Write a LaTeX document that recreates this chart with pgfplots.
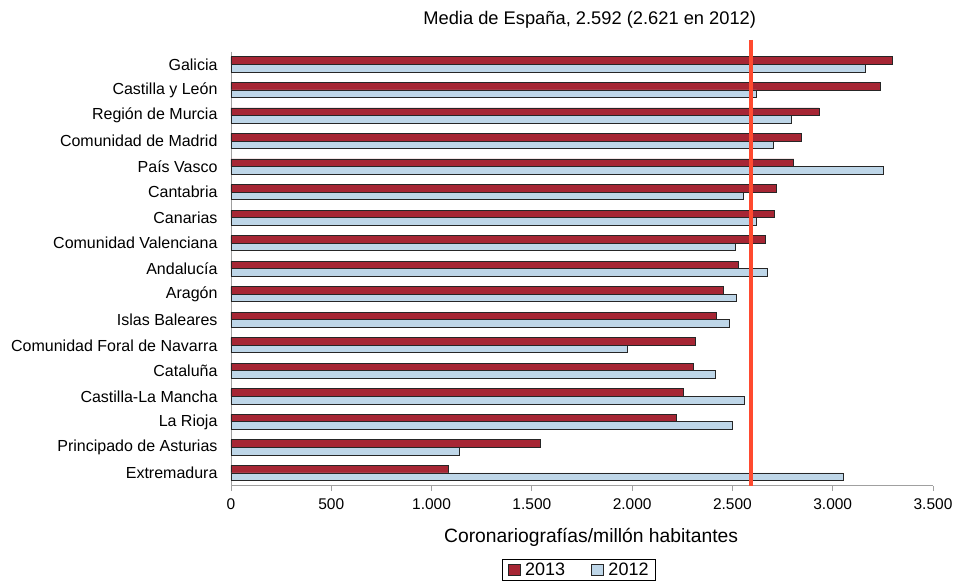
\documentclass[border=0pt]{standalone}
\usepackage{pgfplots}
\pgfplotsset{compat=1.18}
\usepackage{fontspec}
\setmainfont{Liberation Sans}
\definecolor{barred}{RGB}{166,38,52}
\definecolor{barblue}{RGB}{190,214,232}
\definecolor{axgray}{RGB}{160,160,160}
\definecolor{linered}{RGB}{255,74,47}
\begin{document}
\begin{tikzpicture}
\path[use as bounding box] (-231pt,-99.3pt) rectangle (726pt,485.7pt);
\begin{axis}[
  scale only axis,
  width=702pt, height=434pt,
  at={(0pt,0pt)}, anchor=south west,
  font=\fontsize{15.5}{18}\selectfont,
  xmin=0, xmax=3500,
  ymin=-0.5, ymax=16.5,
  y dir=reverse,
  axis x line*=bottom,
  axis y line*=left,
  axis line style={axgray, line width=0.8pt},
  xtick={0,500,...,3500},
  /pgf/number format/.cd, 1000 sep={.}, assume math mode=true,
  /pgfplots/.cd,
  ytick={0,...,16},
  yticklabels={Galicia,Castilla y León,Región de Murcia,Comunidad de Madrid,País Vasco,Cantabria,Canarias,Comunidad Valenciana,Andalucía,Aragón,Islas Baleares,Comunidad Foral de Navarra,Cataluña,Castilla-La Mancha,La Rioja,Principado de Asturias,Extremadura},
  minor ytick={-0.5,0.5,...,16.5},
  major tick length=5pt,
  minor tick length=5pt,
  tick align=outside,
  ytick style={draw=none},
  minor tick style={axgray, line width=0.8pt},
  xtick style={axgray, line width=0.8pt},
  yticklabel style={xshift=-5pt, font=\fontsize{16}{18}\selectfont},
  xticklabel style={yshift=-4pt},
  clip=false,
  title={Media de España, 2.592 (2.621 en 2012)},
  title style={at={(axis description cs:0.511,1.06)}, anchor=center, font=\fontsize{18.3}{20}\selectfont},
  xlabel={Coronariografías/millón habitantes},
  xlabel style={at={(axis description cs:0.513,-0.118)}, anchor=center, font=\fontsize{19.3}{21}\selectfont},
  legend columns=2,
  legend style={at={(axis description cs:0.496,-0.194)}, anchor=center, draw=black, line width=0.8pt,
    font=\fontsize{18}{20}\selectfont, inner xsep=5pt, inner ysep=1pt,
    /tikz/every odd column/.append style={column sep=3pt},
    /tikz/every even column/.append style={column sep=24pt}},
  legend image code/.code={\draw[#1, line width=0.6pt] (0pt,-5.8pt) rectangle (11.7pt,5.8pt);},
]
\addplot[xbar, bar width=7.6pt, bar shift=3.8pt, fill=barred, draw=black!85, line width=0.8pt] coordinates {
(3298,0) (3239,1) (2932,2) (2842,3) (2806,4) (2718,5) (2711,6) (2663,7) (2530,8) (2457,9) (2422,10) (2317,11) (2304,12) (2256,13) (2223,14) (1543,15) (1083,16)};
\addlegendentry{2013}
\addplot[xbar, bar width=7.6pt, bar shift=-3.8pt, fill=barblue, draw=black!85, line width=0.8pt] coordinates {
(3161,0) (2620,1) (2792,2) (2703,3) (3251,4) (2557,5) (2621,6) (2515,7) (2675,8) (2520,9) (2487,10) (1977,11) (2414,12) (2558,13) (2498,14) (1141,15) (3052,16)};
\addlegendentry{2012}
\addplot[linered, line width=4pt, forget plot] coordinates {(2592,-0.96) (2592,16.5)};
\end{axis}
\end{tikzpicture}
\end{document}
